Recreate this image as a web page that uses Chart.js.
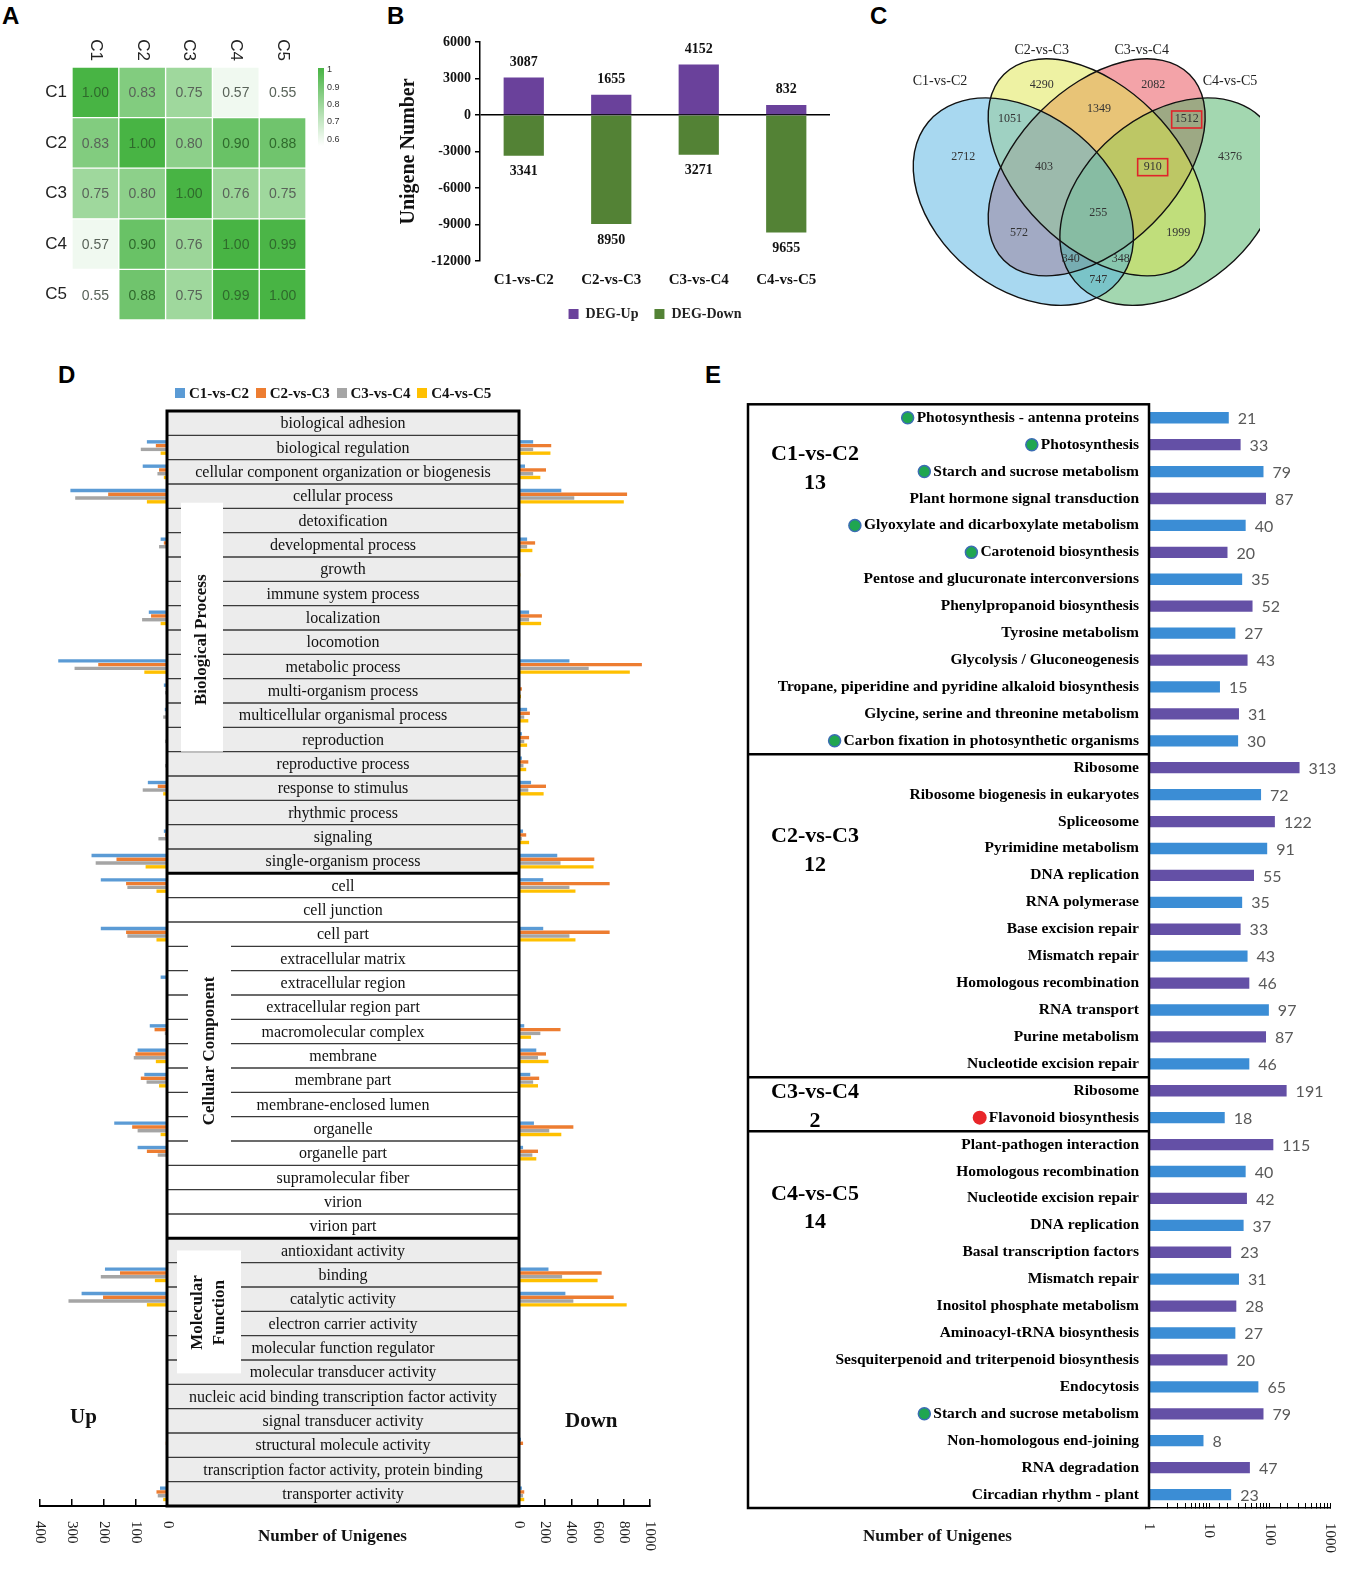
<!doctype html>
<html>
<head>
<meta charset="utf-8">
<title>DEG overview</title>
<script src="https://cdn.jsdelivr.net/npm/chart.js@4.4.0/dist/chart.umd.min.js"></script>
<style>
body { margin: 0; background: #fff; }
#page { position: relative; width: 1352px; height: 1588px; overflow: hidden; background: #fff; }
canvas { position: absolute; }
.tag { position: absolute; font: bold 24px "Liberation Sans", Arial, sans-serif; color: #000; }
.lbl { position: absolute; font-family: "Liberation Serif", "Times New Roman", serif; font-weight: bold; color: #111; white-space: nowrap; }
.sq { display: inline-block; width: 10px; height: 10px; margin: 0 4px 0 3px; }
</style>
</head>
<body>
<div id="page">
    <div class="tag" style="left:2px; top:2px;">A</div>
    <div class="tag" style="left:387px; top:2px;">B</div>
    <div class="tag" style="left:870px; top:2px;">C</div>
    <div class="tag" style="left:58px; top:361px;">D</div>
    <div class="tag" style="left:705px; top:361px;">E</div>

    <canvas id="heat" width="320" height="305" style="left:30px; top:25px;"></canvas>
    <canvas id="deg" width="450" height="308" style="left:385px; top:25px;"></canvas>
    <canvas id="venn" width="400" height="310" style="left:860px; top:0px;"></canvas>
    <canvas id="goUp" width="145" height="1160" style="left:30px; top:400px;"></canvas>
    <canvas id="goDown" width="500" height="1160" style="left:160px; top:400px;"></canvas>
    <canvas id="kegg" width="612" height="1175" style="left:740px; top:385px;"></canvas>

    <div class="lbl" style="left:172px; top:385px; font-size:15px;">
        <span class="sq" style="background:#5b9bd5"></span>C1-vs-C2
        <span class="sq" style="background:#ed7d31"></span>C2-vs-C3
        <span class="sq" style="background:#a5a5a5"></span>C3-vs-C4
        <span class="sq" style="background:#ffc000"></span>C4-vs-C5
    </div>
    <div class="lbl" style="left:70px; top:1404px; font-size:21px;">Up</div>
    <div class="lbl" style="left:565px; top:1408px; font-size:21px;">Down</div>
    <div class="lbl" style="left:258px; top:1526px; font-size:17px;">Number of Unigenes</div>
    <div class="lbl" style="left:863px; top:1526px; font-size:17px;">Number of Unigenes</div>
</div>

<script>
// ---------- A: correlation between samples ----------
var samples = ['C1', 'C2', 'C3', 'C4', 'C5'];
var corrC1 = [1.00, 0.83, 0.75, 0.57, 0.55];
var corrC2 = [0.83, 1.00, 0.80, 0.90, 0.88];
var corrC3 = [0.75, 0.80, 1.00, 0.76, 0.75];
var corrC4 = [0.57, 0.90, 0.76, 1.00, 0.99];
var corrC5 = [0.55, 0.88, 0.75, 0.99, 1.00];
var corr = [corrC1, corrC2, corrC3, corrC4, corrC5];
var colorbarTicks = [1, 0.9, 0.8, 0.7, 0.6];

// ---------- B: DEG numbers ----------
var comparisons = ['C1-vs-C2', 'C2-vs-C3', 'C3-vs-C4', 'C4-vs-C5'];
var degUp = [3087, 1655, 4152, 832];
var degDown = [3341, 8950, 3271, 9655];

// ---------- C: venn (regions: A=C1-vs-C2 ... D=C4-vs-C5) ----------
var vennRegions = ['A', 'B', 'C', 'D', 'AB', 'BC', 'CD', 'ABC', 'BCD', 'ABCD', 'AC', 'BD', 'ACD', 'ABD', 'AD'];
var vennCounts = [2712, 4290, 2082, 4376, 1051, 1349, 1512, 403, 910, 255, 572, 1999, 340, 348, 747];
var vennMarked = ['CD', 'BCD'];

// ---------- D: GO classification ----------
var goGroups = ['Biological Process', 'Cellular Component', 'Molecular Function'];
var goGroupSizes = [19, 15, 11];
var goTerms = [
    'biological adhesion', 'biological regulation', 'cellular component organization or biogenesis', 'cellular process',
    'detoxification', 'developmental process', 'growth', 'immune system process', 'localization', 'locomotion',
    'metabolic process', 'multi-organism process', 'multicellular organismal process', 'reproduction',
    'reproductive process', 'response to stimulus', 'rhythmic process', 'signaling', 'single-organism process',
    'cell', 'cell junction', 'cell part', 'extracellular matrix', 'extracellular region', 'extracellular region part',
    'macromolecular complex', 'membrane', 'membrane part', 'membrane-enclosed lumen', 'organelle', 'organelle part',
    'supramolecular fiber', 'virion', 'virion part',
    'antioxidant activity', 'binding', 'catalytic activity', 'electron carrier activity', 'molecular function regulator',
    'molecular transducer activity', 'nucleic acid binding transcription factor activity', 'signal transducer activity',
    'structural molecule activity', 'transcription factor activity, protein binding', 'transporter activity'
];
var upC1C2 = [0,66,79,305,0,23,3,0,60,0,343,13,10,6,6,63,0,13,239, 210,0,210,0,23,0,57,95,74,0,168,95,0,0,0, 0,197,270,0,0,0,0,0,5,0,25];
var upC2C3 = [0,38,28,187,0,13,2,0,53,0,218,4,4,3,3,32,0,9,161, 131,0,131,0,6,0,42,102,85,0,112,66,0,0,0, 0,150,203,0,0,0,0,0,7,0,36];
var upC3C4 = [0,85,33,290,0,28,5,0,81,0,292,9,15,9,9,79,0,30,226, 127,0,127,0,2,0,10,107,67,0,95,32,0,0,0, 0,210,311,0,0,0,0,0,3,0,32];
var upC4C5 = [0,23,13,66,0,5,1,0,23,0,74,2,3,2,2,15,0,3,70, 36,0,36,0,0,0,3,38,28,0,23,6,0,0,0, 0,41,66,0,0,0,0,0,1,0,15];
var downC1C2 = [0,108,46,323,0,62,5,0,77,0,385,8,62,22,22,92,0,31,292, 185,2,185,0,0,0,40,132,86,0,114,31,0,0,0, 0,225,354,0,0,0,0,0,15,0,22];
var downC2C3 = [0,246,206,825,0,123,8,0,175,0,938,22,83,77,71,206,0,55,575, 692,3,692,0,0,0,317,206,154,0,415,145,0,0,0, 0,631,723,0,0,0,0,0,31,0,40];
var downC3C4 = [0,108,108,422,0,62,4,0,77,0,532,6,40,40,34,71,0,22,317, 385,1,385,0,0,0,163,145,108,0,231,102,0,0,0, 0,329,415,0,0,0,0,0,8,0,31];
var downC4C5 = [0,240,163,800,0,102,10,0,169,0,846,15,71,62,55,188,0,77,569, 431,2,431,0,0,0,92,225,145,0,323,132,0,0,0, 0,600,822,0,0,0,0,0,5,0,40];
var goUpTicks = [400, 300, 200, 100, 0];
var goDownTicks = [0, 200, 400, 600, 800, 1000];

// ---------- E: KEGG enrichment ----------
var keggGroupSizes = [13, 12, 2, 14];
var keggTerms = [
    'Photosynthesis - antenna proteins', 'Photosynthesis', 'Starch and sucrose metabolism', 'Plant hormone signal transduction',
    'Glyoxylate and dicarboxylate metabolism', 'Carotenoid biosynthesis', 'Pentose and glucuronate interconversions',
    'Phenylpropanoid biosynthesis', 'Tyrosine metabolism', 'Glycolysis / Gluconeogenesis',
    'Tropane, piperidine and pyridine alkaloid biosynthesis', 'Glycine, serine and threonine metabolism',
    'Carbon fixation in photosynthetic organisms',
    'Ribosome', 'Ribosome biogenesis in eukaryotes', 'Spliceosome', 'Pyrimidine metabolism', 'DNA replication',
    'RNA polymerase', 'Base excision repair', 'Mismatch repair', 'Homologous recombination', 'RNA transport',
    'Purine metabolism', 'Nucleotide excision repair',
    'Ribosome', 'Flavonoid biosynthesis',
    'Plant-pathogen interaction', 'Homologous recombination', 'Nucleotide excision repair', 'DNA replication',
    'Basal transcription factors', 'Mismatch repair', 'Inositol phosphate metabolism', 'Aminoacyl-tRNA biosynthesis',
    'Sesquiterpenoid and triterpenoid biosynthesis', 'Endocytosis', 'Starch and sucrose metabolism',
    'Non-homologous end-joining', 'RNA degradation', 'Circadian rhythm - plant'
];
var keggCounts = [21,33,79,87,40,20,35,52,27,43,15,31,30, 313,72,122,91,55,35,33,43,46,97,87,46, 191,18, 115,40,42,37,23,31,28,27,20,65,79,8,47,23];
// g = photosynthesis related (green dot), r = flavonoid (red dot)
var keggMarks = ['g','g','g','','g','g','','','','','','','g', '','','','','','','','','','','','', '','r', '','','','','','','','','','','g','','',''];
var keggTicks = [1, 10, 100, 1000];

// ---------- layout / style (not data) ----------
var vennEllipses = [
    { cx: 490, cy: 605, a: 372, b: 260, rot: 40, fill: 'rgba(81,177,225,0.5)' },
    { cx: 710, cy: 502, a: 394, b: 238, rot: 45, fill: 'rgba(221,229,71,0.5)' },
    { cx: 710, cy: 502, a: 394, b: 238, rot: -45, fill: 'rgba(231,71,81,0.5)' },
    { cx: 930, cy: 605, a: 372, b: 260, rot: -40, fill: 'rgba(71,175,97,0.5)' }
];
var vennDrawOrder = [2, 3, 1, 0];
var vennLabelPos = [[310,470],[545,255],[880,255],[1110,470],[450,357],[717,328],[980,357],[552,500],[878,500],[715,640],[477,700],[955,700],[632,778],[782,778],[715,840]];
var vennSetPos = [[240,245],[545,152],[845,152],[1110,245]];
var goColors = ['#5b9bd5', '#ed7d31', '#a5a5a5', '#ffc000'];
var goGroupFill = ['#ececec', '#ffffff', '#ececec'];
// label box: x range inside table, row range (row edges), text row, text x per line
var goGroupBox = [
    { x: [14, 56], rows: [3.77, 14], textRow: 9.4, textX: [35], lines: 1 },
    { x: [21, 64], rows: [21.8, 30.2], textRow: 26.3, textX: [43], lines: 1 },
    { x: [10, 74], rows: [34.5, 39.55], textRow: 37.05, textX: [31, 53], lines: 2 }
];
var keggGroupLabelRow = [1.37, 2.56, 0.06, 1.84];

var serif = '"Liberation Serif", "Times New Roman", serif';

function heatColor(v) {
    var t = Math.pow(Math.max(0, (v - 0.55) / 0.45), 0.8);
    var r = Math.round(255 + (72 - 255) * t);
    var g = Math.round(255 + (180 - 255) * t);
    var b = Math.round(255 + (68 - 255) * t);
    return 'rgb(' + r + ',' + g + ',' + b + ')';
}

function rotText(ctx, text, x, y, angle, align) {
    ctx.save();
    ctx.translate(x, y);
    ctx.rotate(angle);
    ctx.textAlign = align;
    ctx.fillText(text, 0, 0);
    ctx.restore();
}

// tick labels turned 90deg clockwise under an x axis
var vertTicks = {
    id: 'vertTicks',
    afterDraw: function(chart, args, opts) {
        var xs = chart.scales.x, ctx = chart.ctx;
        ctx.save();
        ctx.font = '15px ' + serif;
        ctx.fillStyle = '#222';
        ctx.textBaseline = 'middle';
        opts.values.forEach(function(v) {
            rotText(ctx, String(v), xs.getPixelForValue(v), chart.chartArea.bottom + opts.gap, Math.PI / 2, 'left');
        });
        ctx.restore();
    }
};

// ================= A =================
var heatPlugin = {
    id: 'heatText',
    afterDatasetsDraw: function(chart) {
        var ctx = chart.ctx, xs = chart.scales.x, ys = chart.scales.y, area = chart.chartArea;
        ctx.save();
        ctx.textAlign = 'center';
        ctx.textBaseline = 'middle';
        ctx.font = '14px "Liberation Sans", Arial, sans-serif';
        for (var i = 0; i < samples.length; i++) {
            for (var j = 0; j < samples.length; j++) {
                var v = corr[i][j];
                ctx.fillStyle = v >= 0.85 ? '#2f6a2c' : '#596359';
                ctx.fillText(v.toFixed(2), xs.getPixelForValue(j + 0.5), ys.getPixelForValue(i) + 1);
            }
        }
        // sample names: rows on the left, columns on top
        ctx.font = '17px "Liberation Sans", Arial, sans-serif';
        ctx.fillStyle = '#222';
        ctx.textAlign = 'right';
        samples.forEach(function(s, i) {
            ctx.fillText(s, area.left - 5, ys.getPixelForValue(i));
        });
        samples.forEach(function(s, j) {
            rotText(ctx, s, xs.getPixelForValue(j + 0.5), area.top - 6, Math.PI / 2, 'right');
        });
        // colour bar
        var bx = area.right + 12, top = area.top + 1, h = 78;
        var grad = ctx.createLinearGradient(0, top, 0, top + h);
        grad.addColorStop(0, heatColor(1));
        grad.addColorStop(1, heatColor(0.55));
        ctx.fillStyle = grad;
        ctx.fillRect(bx, top, 6, h);
        ctx.font = '9px "Liberation Sans", Arial, sans-serif';
        ctx.fillStyle = '#333';
        ctx.textAlign = 'left';
        colorbarTicks.forEach(function(t) {
            ctx.fillText(String(t), bx + 9, top + 2 + (1 - t) / 0.45 * h);
        });
        ctx.restore();
    }
};

var heatSets = samples.map(function(s, j) {
    return {
        label: s,
        data: corr.map(function() { return [j, j + 1]; }),
        backgroundColor: corr.map(function(row) { return heatColor(row[j]); }),
        borderColor: '#ffffff',
        borderWidth: 1,
        borderSkipped: false,
        grouped: false,
        barPercentage: 1,
        categoryPercentage: 1
    };
});

new Chart(document.getElementById('heat'), {
    type: 'bar',
    data: { labels: samples, datasets: heatSets },
    options: {
        indexAxis: 'y',
        responsive: false,
        animation: false,
        layout: { padding: { left: 42, top: 42, right: 44, bottom: 10 } },
        plugins: { legend: { display: false }, tooltip: { enabled: false } },
        scales: {
            x: { type: 'linear', min: 0, max: 5, display: false },
            y: { display: false }
        }
    },
    plugins: [heatPlugin]
});

// ================= B =================
var degLabels = {
    id: 'degLabels',
    afterDatasetsDraw: function(chart) {
        var ctx = chart.ctx;
        ctx.save();
        ctx.font = 'bold 14px ' + serif;
        ctx.fillStyle = '#111';
        ctx.textAlign = 'center';
        chart.getDatasetMeta(0).data.forEach(function(el, i) {
            ctx.textBaseline = 'bottom';
            ctx.fillText(String(degUp[i]), el.x, el.y - 8);
        });
        chart.getDatasetMeta(1).data.forEach(function(el, i) {
            ctx.textBaseline = 'top';
            ctx.fillText(String(degDown[i]), el.x, el.y + 9);
        });
        ctx.restore();
    }
};

new Chart(document.getElementById('deg'), {
    type: 'bar',
    data: {
        labels: comparisons,
        datasets: [
            { label: 'DEG-Up', data: degUp, backgroundColor: '#6a419b' },
            { label: 'DEG-Down', data: degDown.map(function(v) { return -v; }), backgroundColor: '#538235' }
        ]
    },
    options: {
        responsive: false,
        animation: false,
        layout: { padding: { left: 10, top: 17, right: 5, bottom: 2 } },
        datasets: { bar: { grouped: false, barPercentage: 0.46, categoryPercentage: 1 } },
        plugins: {
            tooltip: { enabled: false },
            legend: {
                position: 'bottom',
                fullSize: false,
                labels: { boxWidth: 10, boxHeight: 10, padding: 16, color: '#222', font: { family: serif, weight: 'bold', size: 14 } }
            }
        },
        scales: {
            x: {
                grid: { display: false },
                border: { display: false },
                ticks: { color: '#111', padding: 2, font: { family: serif, weight: 'bold', size: 15 } }
            },
            y: {
                min: -12000,
                max: 6000,
                ticks: {
                    stepSize: 3000, color: '#111', padding: 4,
                    font: { family: serif, weight: 'bold', size: 14 },
                    callback: function(v) { return String(v); }
                },
                grid: {
                    color: function(c) { return c.tick && c.tick.value === 0 ? '#000' : 'rgba(0,0,0,0)'; },
                    lineWidth: 1.5,
                    tickColor: '#000',
                    tickLength: 5
                },
                border: { color: '#000', width: 1.5 },
                title: { display: true, text: 'Unigene Number', color: '#111', padding: 2, font: { family: serif, weight: 'bold', size: 20 } },
                afterFit: function(s) { s.width = 85; }
            }
        }
    },
    plugins: [degLabels]
});

// ================= C =================
var vennPlugin = {
    id: 'venn',
    beforeDatasetsDraw: function(chart) {
        var ctx = chart.ctx, xs = chart.scales.x, ys = chart.scales.y;
        var k = xs.getPixelForValue(1) - xs.getPixelForValue(0);
        var path = function(e) {
            ctx.beginPath();
            ctx.ellipse(xs.getPixelForValue(e.cx), ys.getPixelForValue(e.cy), e.a * k, e.b * k, e.rot * Math.PI / 180, 0, Math.PI * 2);
        };
        ctx.save();
        vennDrawOrder.forEach(function(idx) {
            path(vennEllipses[idx]);
            ctx.fillStyle = vennEllipses[idx].fill;
            ctx.fill();
        });
        ctx.strokeStyle = '#111';
        ctx.lineWidth = 1.4;
        vennEllipses.forEach(function(e) {
            path(e);
            ctx.stroke();
        });
        ctx.restore();
    },
    afterDatasetsDraw: function(chart) {
        var ctx = chart.ctx, xs = chart.scales.x, ys = chart.scales.y;
        ctx.save();
        ctx.textAlign = 'center';
        ctx.textBaseline = 'middle';
        ctx.font = '12px ' + serif;
        chart.getDatasetMeta(0).data.forEach(function(pt, i) {
            ctx.fillStyle = '#333';
            ctx.fillText(String(vennCounts[i]), pt.x, pt.y);
            if (vennMarked.indexOf(vennRegions[i]) >= 0) {
                ctx.strokeStyle = '#e0242a';
                ctx.lineWidth = 1.6;
                ctx.strokeRect(pt.x - 15, pt.y - 8, 30, 17);
            }
        });
        ctx.font = '14px ' + serif;
        ctx.fillStyle = '#222';
        comparisons.forEach(function(c, i) {
            ctx.fillText(c, xs.getPixelForValue(vennSetPos[i][0]), ys.getPixelForValue(vennSetPos[i][1]));
        });
        ctx.restore();
    }
};

new Chart(document.getElementById('venn'), {
    type: 'scatter',
    data: { datasets: [{ data: vennLabelPos.map(function(p) { return { x: p[0], y: p[1] }; }), pointRadius: 0 }] },
    options: {
        responsive: false,
        animation: false,
        layout: { padding: 0 },
        plugins: { legend: { display: false }, tooltip: { enabled: false } },
        scales: {
            x: { type: 'linear', min: 0, max: 1200, display: false },
            y: { type: 'linear', min: 0, max: 930, reverse: true, display: false }
        }
    },
    plugins: [vennPlugin]
});

// ================= D =================
function goSets(series) {
    return series.map(function(d, k) {
        return { label: comparisons[k], data: d, backgroundColor: goColors[k], barPercentage: 0.9, categoryPercentage: 0.62 };
    });
}

var goTable = {
    id: 'goTable',
    afterDraw: function(chart) {
        var ctx = chart.ctx, ys = chart.scales.y, area = chart.chartArea;
        var x1 = area.left, x0 = area.left - 352;
        var rowH = ys.getPixelForValue(1) - ys.getPixelForValue(0);
        var edge = function(k) { return ys.getPixelForValue(0) - rowH / 2 + k * rowH; };
        ctx.save();
        var start = 0;
        goGroupSizes.forEach(function(n, g) {
            ctx.fillStyle = goGroupFill[g];
            ctx.fillRect(x0, edge(start), x1 - x0, edge(start + n) - edge(start));
            ctx.strokeStyle = '#3a3a3a';
            ctx.lineWidth = 1.3;
            for (var r = 1; r < n; r++) {
                ctx.beginPath();
                ctx.moveTo(x0, edge(start + r));
                ctx.lineTo(x1, edge(start + r));
                ctx.stroke();
            }
            var box = goGroupBox[g];
            ctx.fillStyle = '#fff';
            ctx.fillRect(x0 + box.x[0], edge(box.rows[0]), box.x[1] - box.x[0], edge(box.rows[1]) - edge(box.rows[0]));
            start += n;
        });
        // terms
        ctx.fillStyle = '#111';
        ctx.font = '16px ' + serif;
        ctx.textAlign = 'center';
        ctx.textBaseline = 'middle';
        goTerms.forEach(function(t, i) {
            ctx.fillText(t, (x0 + x1) / 2, ys.getPixelForValue(i) + 1);
        });
        // group names
        ctx.font = 'bold 17px ' + serif;
        goGroups.forEach(function(name, g) {
            var box = goGroupBox[g];
            var parts = box.lines === 2 ? name.split(' ') : [name];
            parts.forEach(function(p, li) {
                rotText(ctx, p, x0 + box.textX[li], edge(box.textRow), -Math.PI / 2, 'center');
            });
        });
        // borders
        ctx.strokeStyle = '#000';
        ctx.lineWidth = 3;
        ctx.strokeRect(x0, edge(0), x1 - x0, edge(goTerms.length) - edge(0));
        var acc = 0;
        goGroupSizes.slice(0, -1).forEach(function(n) {
            acc += n;
            ctx.beginPath();
            ctx.moveTo(x0, edge(acc));
            ctx.lineTo(x1, edge(acc));
            ctx.stroke();
        });
        ctx.restore();
    }
};

function goOptions(reverse, max, step, pad, ticks) {
    return {
        indexAxis: 'y',
        responsive: false,
        animation: false,
        layout: { padding: pad },
        plugins: { legend: { display: false }, tooltip: { enabled: false }, vertTicks: { values: ticks, gap: 15 } },
        scales: {
            y: { display: false },
            x: {
                reverse: reverse,
                min: 0,
                max: max,
                ticks: { stepSize: step, display: false },
                grid: { drawOnChartArea: false, color: '#000', tickLength: -7, lineWidth: 1.5 },
                border: { color: '#000', width: 2 },
                afterFit: function(s) { s.height = 10; }
            }
        }
    };
}

new Chart(document.getElementById('goUp'), {
    type: 'bar',
    data: { labels: goTerms, datasets: goSets([upC1C2, upC2C3, upC3C4, upC4C5]) },
    options: goOptions(true, 400, 100, { left: 10, right: 7, top: 11, bottom: 44 }, goUpTicks),
    plugins: [vertTicks]
});

new Chart(document.getElementById('goDown'), {
    type: 'bar',
    data: { labels: goTerms, datasets: goSets([downC1C2, downC2C3, downC3C4, downC4C5]) },
    options: goOptions(false, 1000, 200, { left: 359, right: 10, top: 11, bottom: 44 }, goDownTicks),
    plugins: [vertTicks, goTable]
});

// ================= E =================
var keggDeco = {
    id: 'keggDeco',
    afterDraw: function(chart) {
        var ctx = chart.ctx, ys = chart.scales.y, area = chart.chartArea;
        var x1 = area.left, x0 = area.left - 401;
        var rowH = ys.getPixelForValue(1) - ys.getPixelForValue(0);
        var edge = function(k) { return ys.getPixelForValue(0) - rowH / 2 + k * rowH; };
        ctx.save();
        // value labels
        ctx.font = '16px Lato, "Open Sans", sans-serif';
        ctx.fillStyle = '#595959';
        ctx.textAlign = 'left';
        ctx.textBaseline = 'middle';
        chart.getDatasetMeta(0).data.forEach(function(el, i) {
            ctx.fillText(String(keggCounts[i]), el.x + 9, el.y + 1);
        });
        // markers in front of terms
        ctx.font = 'bold 15.5px ' + serif;
        keggTerms.forEach(function(t, i) {
            if (!keggMarks[i]) return;
            var w = ctx.measureText(t).width;
            var cx = area.left - 10 - w - 9, cy = ys.getPixelForValue(i);
            ctx.beginPath();
            ctx.arc(cx, cy, keggMarks[i] === 'r' ? 7 : 6, 0, Math.PI * 2);
            ctx.fillStyle = keggMarks[i] === 'r' ? '#e8262a' : '#1fa650';
            ctx.fill();
            if (keggMarks[i] === 'g') {
                ctx.strokeStyle = '#3b6db3';
                ctx.lineWidth = 1.5;
                ctx.stroke();
            }
        });
        // group box
        ctx.strokeStyle = '#000';
        ctx.lineWidth = 2.5;
        ctx.strokeRect(x0, edge(0), x1 - x0, edge(keggTerms.length) - edge(0));
        var start = 0;
        ctx.font = 'bold 22px ' + serif;
        ctx.fillStyle = '#000';
        ctx.textAlign = 'center';
        keggGroupSizes.forEach(function(n, g) {
            if (start > 0) {
                ctx.beginPath();
                ctx.moveTo(x0, edge(start));
                ctx.lineTo(x1, edge(start));
                ctx.stroke();
            }
            var yLab = ys.getPixelForValue(start + keggGroupLabelRow[g]);
            ctx.fillText(comparisons[g], x0 + 67, yLab);
            ctx.fillText(String(n), x0 + 67, yLab + rowH * 1.06);
            start += n;
        });
        ctx.restore();
    }
};

new Chart(document.getElementById('kegg'), {
    type: 'bar',
    data: {
        labels: keggTerms,
        datasets: [{
            data: keggCounts,
            backgroundColor: keggCounts.map(function(v, i) { return i % 2 ? '#6450a6' : '#3b8dd5'; }),
            barPercentage: 0.42,
            categoryPercentage: 1
        }]
    },
    options: {
        indexAxis: 'y',
        responsive: false,
        animation: false,
        layout: { padding: { left: 8, right: 22, top: 5, bottom: 42 } },
        plugins: { legend: { display: false }, tooltip: { enabled: false }, vertTicks: { values: keggTicks, gap: 15 } },
        scales: {
            x: {
                type: 'logarithmic',
                min: 1,
                max: 1000,
                ticks: { display: false },
                grid: { drawOnChartArea: false, color: '#000', tickLength: -5, lineWidth: 1 },
                border: { color: '#000', width: 1.5 },
                afterFit: function(s) { s.height = 10; }
            },
            y: {
                grid: { display: false, drawTicks: false },
                border: { display: false },
                ticks: { autoSkip: false, color: '#000', padding: 10, font: { family: serif, weight: 'bold', size: 15.5 } },
                afterFit: function(s) { s.width = 401; }
            }
        }
    },
    plugins: [vertTicks, keggDeco]
});
</script>
</body>
</html>
